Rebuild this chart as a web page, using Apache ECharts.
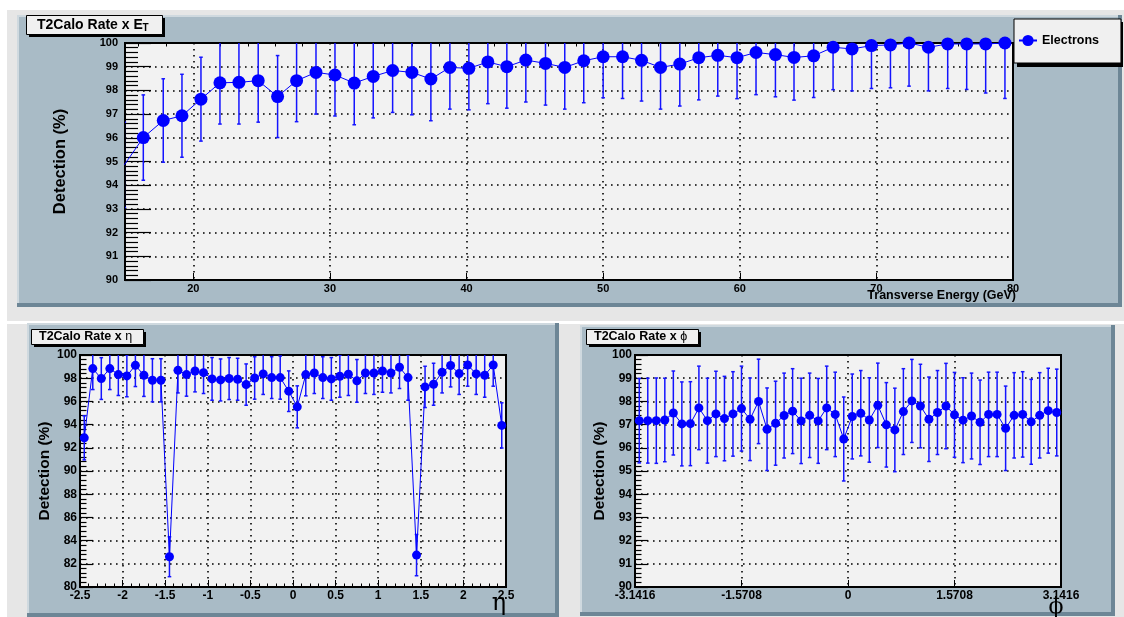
<!DOCTYPE html>
<html>
<head>
<meta charset="utf-8">
<title>T2Calo Rate</title>
<script src="https://cdn.jsdelivr.net/npm/echarts@6/dist/echarts.min.js"></script>
<style>
    html, body {
        margin: 0;
        padding: 0;
        background: #fff;
    }

    #main {
        width: 1124px;
        height: 617px;
    }
</style>
</head>
<body>
<div id="main"></div>
<script>
// ---- data ----
// E_T panel (first point lies just left of the frame, only its line shows)
var etBins = [14.95, 16.34, 17.80, 19.17, 20.56, 21.95, 23.34, 24.75, 26.17, 27.56, 28.98,
    30.37, 31.78, 33.17, 34.59, 36.00, 37.39, 38.78, 40.17, 41.56, 42.95,
    44.34, 45.78, 47.19, 48.58, 50.00, 51.42, 52.81, 54.20, 55.61, 57.00,
    58.39, 59.80, 61.19, 62.61, 63.97, 65.41, 66.83, 68.22, 69.64, 71.03,
    72.39, 73.81, 75.22, 76.61, 78.00, 79.41];
var etRate = [94.86, 96.01, 96.73, 96.93, 97.63, 98.32, 98.34, 98.41, 97.74, 98.41, 98.76,
    98.65, 98.31, 98.59, 98.84, 98.76, 98.48, 98.97, 98.93, 99.20, 99.00,
    99.28, 99.14, 98.97, 99.25, 99.42, 99.42, 99.27, 98.97, 99.11, 99.38,
    99.48, 99.38, 99.60, 99.51, 99.39, 99.46, 99.82, 99.75, 99.89, 99.92,
    100.0, 99.82, 99.96, 99.96, 99.96, 100.0];
var etErr = [1.80, 1.80, 1.76, 1.75, 1.77, 1.74, 1.76, 1.75, 1.73, 1.73, 1.76,
    1.73, 1.76, 1.75, 1.77, 1.79, 1.76, 1.76, 1.75, 1.76, 1.75,
    1.77, 1.76, 1.76, 1.77, 1.73, 1.76, 1.72, 1.76, 1.77, 1.78,
    1.72, 1.73, 1.78, 1.78, 1.80, 1.76, 1.79, 1.77, 1.81, 1.81,
    1.82, 1.84, 1.88, 1.92, 2.07, 2.34];

// eta panel
var etaBins = [-2.45, -2.35, -2.25, -2.15, -2.05, -1.95, -1.85, -1.75, -1.65, -1.55,
    -1.45, -1.35, -1.25, -1.15, -1.05, -0.95, -0.85, -0.75, -0.65, -0.55,
    -0.45, -0.35, -0.25, -0.15, -0.05, 0.05, 0.15, 0.25, 0.35, 0.45,
    0.55, 0.65, 0.75, 0.85, 0.95, 1.05, 1.15, 1.25, 1.35, 1.45,
    1.55, 1.65, 1.75, 1.85, 1.95, 2.05, 2.15, 2.25, 2.35, 2.45];
var etaRate = [92.86, 98.83, 97.97, 98.83, 98.31, 98.20, 99.11, 98.25, 97.82, 97.82,
    82.61, 98.68, 98.31, 98.62, 98.48, 97.94, 97.85, 97.97, 97.91, 97.45,
    98.02, 98.37, 98.05, 98.05, 96.88, 95.53, 98.31, 98.45, 98.05, 97.94,
    98.17, 98.34, 97.77, 98.45, 98.45, 98.62, 98.45, 98.94, 98.05, 82.75,
    97.25, 97.48, 98.51, 99.09, 98.40, 99.14, 98.37, 98.25, 99.14, 93.93];
var etaErr = [1.90, 1.81, 1.80, 1.81, 1.80, 1.80, 1.83, 1.82, 1.86, 1.86,
    1.72, 1.95, 1.86, 1.80, 1.80, 1.84, 1.81, 1.81, 1.81, 1.78,
    1.83, 1.77, 1.80, 1.86, 1.75, 1.81, 1.83, 1.77, 1.80, 1.84,
    1.81, 1.83, 1.84, 1.77, 1.85, 1.83, 1.72, 1.83, 1.95, 1.78,
    1.78, 1.81, 1.78, 1.84, 1.80, 1.83, 1.77, 1.89, 1.83, 1.95];

// phi panel
var phiBins = [-3.0788, -2.9531, -2.8274, -2.7018, -2.5761, -2.4504, -2.3248, -2.1991, -2.0735, -1.9478,
    -1.8221, -1.6965, -1.5708, -1.4451, -1.3195, -1.1938, -1.0681, -0.9425, -0.8168, -0.6912,
    -0.5655, -0.4398, -0.3142, -0.1885, -0.0628, 0.0628, 0.1885, 0.3142, 0.4398, 0.5655,
    0.6912, 0.8168, 0.9425, 1.0681, 1.1938, 1.3195, 1.4451, 1.5708, 1.6965, 1.8221,
    1.9478, 2.0735, 2.1991, 2.3248, 2.4504, 2.5761, 2.7018, 2.8274, 2.9531, 3.0788];
var phiRate = [97.17, 97.17, 97.17, 97.20, 97.50, 97.03, 97.04, 97.72, 97.17, 97.46,
    97.26, 97.46, 97.69, 97.23, 98.00, 96.80, 97.06, 97.39, 97.58, 97.16,
    97.40, 97.16, 97.72, 97.44, 96.38, 97.35, 97.49, 97.20, 97.83, 96.99,
    96.77, 97.56, 98.02, 97.80, 97.23, 97.52, 97.80, 97.42, 97.19, 97.37,
    97.10, 97.44, 97.44, 96.84, 97.40, 97.44, 97.12, 97.40, 97.60, 97.52];
var phiErr = [1.82, 1.83, 1.84, 1.80, 1.81, 1.81, 1.81, 1.80, 1.83, 1.84,
    1.82, 1.82, 1.83, 1.78, 1.82, 1.78, 1.81, 1.83, 1.83, 1.84,
    1.82, 1.83, 1.80, 1.82, 1.81, 1.83, 1.84, 1.82, 1.82, 1.82,
    1.80, 1.85, 1.79, 1.80, 1.82, 1.81, 1.84, 1.83, 1.83, 1.85,
    1.82, 1.82, 1.82, 1.82, 1.84, 1.84, 1.83, 1.84, 1.83, 1.87];

// tick labels
var etMajor = [20, 30, 40, 50, 60, 70, 80];
var etMinor = [16, 18, 22, 24, 26, 28, 32, 34, 36, 38, 42, 44, 46, 48, 52, 54, 56, 58, 62, 64, 66, 68, 72, 74, 76, 78];

// ---- styles ----
var FONT = '"Liberation Sans", Arial, Helvetica, sans-serif';
var BLUE = '#0000ff';
var PAD_FILL = '#a9bbc6';
var PAD_LIGHT = '#cfd9df';
var PAD_DARK = '#6d8696';
var CANVAS = '#e6e6e6';
var FRAME = '#f2f2f2';

function zip(xs, ys, es) {
    var out = [];
    for (var i = 0; i < xs.length; i++) {
        out.push(es ? [xs[i], ys[i], es[i]] : [xs[i], ys[i]]);
    }
    return out;
}

// vertical error bar with small caps
function errorBar(params, api) {
    var x = api.value(0), y = api.value(1), e = api.value(2);
    var hi = api.coord([x, y + e]);
    var lo = api.coord([x, y - e]);
    var cap = 1.8;
    var st = { stroke: '#1414ff', lineWidth: 1.5 };
    return {
        type: 'group',
        children: [
            { type: 'line', shape: { x1: hi[0], y1: hi[1], x2: lo[0], y2: lo[1] }, style: st },
            { type: 'line', shape: { x1: hi[0] - cap, y1: hi[1], x2: hi[0] + cap, y2: hi[1] }, style: st },
            { type: 'line', shape: { x1: lo[0] - cap, y1: lo[1], x2: lo[0] + cap, y2: lo[1] }, style: st }
        ]
    };
}

function dotted() {
    return { show: true, lineStyle: { color: '#000', width: 1.6, type: [1.6, 4.4] } };
}

function labelStyle(size) {
    return { color: '#000', fontFamily: FONT, fontWeight: 'bold', fontSize: size };
}

// ROOT-like pad with bevel
function pad(x, y, w, h) {
    return [
        { type: 'rect', z: -20, shape: { x: x, y: y, width: w, height: h }, style: { fill: PAD_DARK } },
        { type: 'rect', z: -19, shape: { x: x, y: y, width: w - 4, height: h - 4 }, style: { fill: PAD_LIGHT } },
        { type: 'rect', z: -18, shape: { x: x + 2, y: y + 2, width: w - 6, height: h - 6 }, style: { fill: PAD_FILL } }
    ];
}

// title box with solid shadow
function titleBox(x, y, w, h) {
    return [
        { type: 'rect', z: 20, shape: { x: x + 3, y: y + 3, width: w, height: h }, style: { fill: '#000' } },
        { type: 'rect', z: 21, shape: { x: x + 0.5, y: y + 0.5, width: w, height: h }, style: { fill: '#f0f0f0', stroke: '#000', lineWidth: 1 } }
    ];
}

var graphics = [].concat(
    [
        { type: 'rect', z: -30, shape: { x: 7, y: 10, width: 1117, height: 311 }, style: { fill: CANVAS } },
        { type: 'rect', z: -30, shape: { x: 7, y: 324, width: 1117, height: 293 }, style: { fill: CANVAS } }
    ],
    pad(17, 15, 1105, 292),
    pad(27, 323, 532, 294),
    pad(580, 325, 535, 291),
    titleBox(26, 15, 136, 19),
    titleBox(31, 329, 112, 15),
    titleBox(586, 329, 112, 15),
    [
        { type: 'text', z: 22, style: { x: 37, y: 25, text: 'T2Calo Rate x E', fill: '#000', font: 'bold 14px ' + FONT, verticalAlign: 'middle' } },
        { type: 'text', z: 22, style: { x: 142.5, y: 28.5, text: 'T', fill: '#000', font: 'bold 10px ' + FONT, verticalAlign: 'middle' } },
        {
            type: 'text', z: 22, style: {
                x: 39, y: 337, text: '{b|T2Calo Rate x }{g|η}', verticalAlign: 'middle',
                rich: { b: { fontFamily: FONT, fontWeight: 'bold', fontSize: 12.5, fill: '#000' }, g: { fontFamily: FONT, fontSize: 12.5, fill: '#000' } }
            }
        },
        {
            type: 'text', z: 22, style: {
                x: 594, y: 337, text: '{b|T2Calo Rate x }{g|ϕ}', verticalAlign: 'middle',
                rich: { b: { fontFamily: FONT, fontWeight: 'bold', fontSize: 12.5, fill: '#000' }, g: { fontFamily: FONT, fontSize: 12.5, fill: '#000' } }
            }
        },
        { type: 'text', z: 22, style: { x: 1016, y: 296, text: 'Transverse Energy (GeV)', fill: '#000', font: 'bold 12.5px ' + FONT, align: 'right', verticalAlign: 'middle' } },
        { type: 'text', z: 22, style: { x: 499, y: 604, text: 'η', fill: '#000', font: '24px "DejaVu Serif", "Liberation Serif", serif', align: 'center', verticalAlign: 'middle' } },
        { type: 'text', z: 22, style: { x: 1056, y: 607, text: 'ϕ', fill: '#000', font: '22px "DejaVu Serif", "Liberation Serif", serif', align: 'center', verticalAlign: 'middle' } },
        // legend shadow
        { type: 'rect', z: 3, shape: { x: 1017, y: 22, width: 106, height: 45 }, style: { fill: '#000' } }
    ]
);

var chart = echarts.init(document.getElementById('main'));

chart.setOption({
    animation: false,
    backgroundColor: '#ffffff',
    graphic: { elements: graphics },
    legend: {
        data: ['Electrons'],
        left: 1014,
        top: 19,
        orient: 'vertical',
        padding: [15, 22, 16, 4],
        itemWidth: 18,
        itemHeight: 14,
        itemGap: 0,
        backgroundColor: '#f0f0f0',
        borderColor: '#000',
        borderWidth: 1,
        borderRadius: 0,
        textStyle: { color: '#000', fontFamily: FONT, fontWeight: 'bold', fontSize: 12.5 }
    },
    grid: [
        { left: 125, top: 43, width: 888, height: 237, show: true, backgroundColor: FRAME, borderColor: '#000', borderWidth: 2 },
        { left: 80, top: 355, width: 426, height: 232, show: true, backgroundColor: FRAME, borderColor: '#000', borderWidth: 2 },
        { left: 635, top: 355, width: 426, height: 232, show: true, backgroundColor: FRAME, borderColor: '#000', borderWidth: 2 }
    ],
    xAxis: [
        {
            gridIndex: 0, type: 'value', min: 15, max: 80,
            axisLine: { show: true, onZero: false, lineStyle: { color: '#000', width: 2 } },
            axisTick: { show: true, inside: true, length: 7, customValues: etMajor, lineStyle: { color: '#000', width: 1 } },
            axisLabel: Object.assign({ customValues: etMajor, margin: 3 }, labelStyle(11)),
            splitLine: dotted()
        },
        {
            // minor ticks only
            gridIndex: 0, type: 'value', min: 15, max: 80,
            axisLine: { show: false },
            axisTick: { show: true, inside: true, length: 3.5, customValues: etMinor, lineStyle: { color: '#000', width: 1 } },
            axisLabel: { show: false },
            splitLine: { show: false }
        },
        {
            gridIndex: 1, type: 'value', min: -2.5, max: 2.5, interval: 0.5,
            axisLine: { show: true, onZero: false, lineStyle: { color: '#000', width: 2 } },
            axisTick: { show: true, inside: true, length: 7, lineStyle: { color: '#000', width: 1 } },
            minorTick: { show: true, splitNumber: 5, length: 3.5, lineStyle: { color: '#000', width: 1 } },
            axisLabel: Object.assign({ margin: 3, showMinLabel: true, showMaxLabel: true }, labelStyle(12)),
            splitLine: dotted()
        },
        {
            gridIndex: 2, type: 'value', min: -Math.PI, max: Math.PI, interval: Math.PI / 2,
            axisLine: { show: true, onZero: false, lineStyle: { color: '#000', width: 2 } },
            axisTick: { show: true, inside: true, length: 7, lineStyle: { color: '#000', width: 1 } },
            axisLabel: Object.assign({
                margin: 3, showMinLabel: true, showMaxLabel: true,
                formatter: function (v) { return Math.abs(v) < 1e-6 ? '0' : v.toFixed(4); }
            }, labelStyle(12)),
            splitLine: dotted()
        }
    ],
    yAxis: [
        {
            gridIndex: 0, type: 'value', min: 90, max: 100, interval: 1,
            name: 'Detection (%)', nameLocation: 'middle', nameRotate: 90, nameGap: 56,
            nameTextStyle: labelStyle(16.5),
            axisLine: { show: true, onZero: false, lineStyle: { color: '#000', width: 2 } },
            axisTick: { show: true, inside: true, length: 26, lineStyle: { color: '#000', width: 1.2 } },
            minorTick: { show: true, splitNumber: 5, length: 13, lineStyle: { color: '#000', width: 1.2 } },
            axisLabel: Object.assign({ margin: 7 }, labelStyle(11)),
            splitLine: dotted()
        },
        {
            gridIndex: 1, type: 'value', min: 80, max: 100, interval: 2,
            name: 'Detection (%)', nameLocation: 'middle', nameRotate: 90, nameGap: 24,
            nameTextStyle: labelStyle(15.5),
            axisLine: { show: true, onZero: false, lineStyle: { color: '#000', width: 2 } },
            axisTick: { show: true, inside: true, length: 13, lineStyle: { color: '#000', width: 1.2 } },
            minorTick: { show: true, splitNumber: 5, length: 6.5, lineStyle: { color: '#000', width: 1.2 } },
            axisLabel: Object.assign({ margin: 3 }, labelStyle(12)),
            splitLine: dotted()
        },
        {
            gridIndex: 2, type: 'value', min: 90, max: 100, interval: 1,
            name: 'Detection (%)', nameLocation: 'middle', nameRotate: 90, nameGap: 24,
            nameTextStyle: labelStyle(15.5),
            axisLine: { show: true, onZero: false, lineStyle: { color: '#000', width: 2 } },
            axisTick: { show: true, inside: true, length: 13, lineStyle: { color: '#000', width: 1.2 } },
            minorTick: { show: true, splitNumber: 5, length: 6.5, lineStyle: { color: '#000', width: 1.2 } },
            axisLabel: Object.assign({ margin: 3 }, labelStyle(12)),
            splitLine: dotted()
        }
    ],
    series: [
        {
            type: 'custom', name: 'etErr', xAxisIndex: 0, yAxisIndex: 0, clip: true, z: 2,
            renderItem: errorBar, encode: { x: 0, y: 1 }, data: zip(etBins, etRate, etErr)
        },
        {
            type: 'line', name: 'Electrons', xAxisIndex: 0, yAxisIndex: 0, clip: true, z: 3,
            symbol: 'circle', symbolSize: 13, showAllSymbol: true,
            itemStyle: { color: BLUE }, lineStyle: { color: BLUE, width: 1 },
            data: zip(etBins, etRate)
        },
        {
            type: 'custom', name: 'etaErr', xAxisIndex: 2, yAxisIndex: 1, clip: true, z: 2,
            renderItem: errorBar, encode: { x: 0, y: 1 }, data: zip(etaBins, etaRate, etaErr)
        },
        {
            type: 'line', name: 'eta', xAxisIndex: 2, yAxisIndex: 1, clip: true, z: 3,
            symbol: 'circle', symbolSize: 9, showAllSymbol: true,
            itemStyle: { color: BLUE }, lineStyle: { color: BLUE, width: 1 },
            data: zip(etaBins, etaRate)
        },
        {
            type: 'custom', name: 'phiErr', xAxisIndex: 3, yAxisIndex: 2, clip: true, z: 2,
            renderItem: errorBar, encode: { x: 0, y: 1 }, data: zip(phiBins, phiRate, phiErr)
        },
        {
            type: 'line', name: 'phi', xAxisIndex: 3, yAxisIndex: 2, clip: true, z: 3,
            symbol: 'circle', symbolSize: 9, showAllSymbol: true,
            itemStyle: { color: BLUE }, lineStyle: { color: BLUE, width: 1 },
            data: zip(phiBins, phiRate)
        }
    ]
});
</script>
</body>
</html>
